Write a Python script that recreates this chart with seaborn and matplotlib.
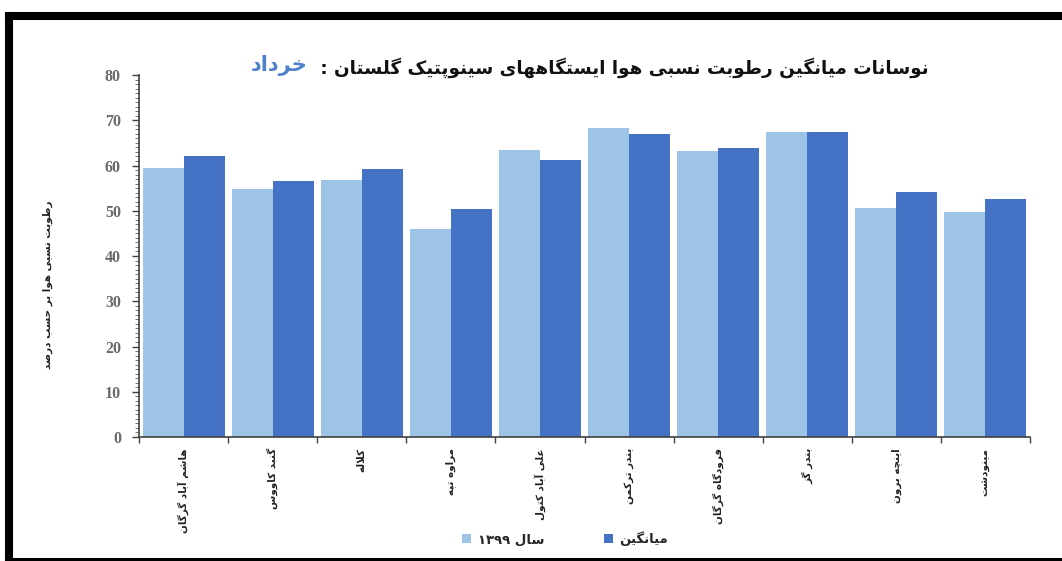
"""
Golestan synoptic stations - mean relative humidity, Khordad.
"""
import re

import matplotlib
matplotlib.use("Agg")
import matplotlib.pyplot as plt
import numpy as np
import pandas as pd
import seaborn as sns
from matplotlib.lines import Line2D
from matplotlib.patches import Patch
from matplotlib.ticker import FixedLocator, MultipleLocator

stations = [
    "هاشم آباد گرگان", "گنبد کاووس", "کلاله", "مراوه تپه", "علی آباد کتول",
    "بندر ترکمن", "فرودگاه گرگان", "بندر گز", "اینچه برون", "مینودشت",
]
year_1399 = [59.5, 54.8, 56.8, 46.0, 63.4, 68.2, 63.3, 67.5, 50.5, 49.7]
long_mean = [62.2, 56.6, 59.2, 50.4, 61.2, 66.9, 63.9, 67.5, 54.2, 52.6]
series_names = ["سال ۱۳۹۹", "میانگین"]
title_main = "نوسانات میانگین رطوبت نسبی هوا ایستگاههای سینوپتیک گلستان : "
title_month = "خرداد"
y_label = "رطوبت نسبی هوا بر حسب درصد"

LIGHT = "#9DC3E6"
DARK = "#4472C4"

# --- tiny persian shaper (no arabic_reshaper in the sandbox) ---
# (isolated, final, initial, medial); right-joining letters have no initial/medial
FORMS = {
    "ا": ("\uFE8D", "\uFE8E", None, None),
    "آ": ("\uFE81", "\uFE82", None, None),
    "ب": ("\uFE8F", "\uFE90", "\uFE91", "\uFE92"),
    "پ": ("\uFB56", "\uFB57", "\uFB58", "\uFB59"),
    "ت": ("\uFE95", "\uFE96", "\uFE97", "\uFE98"),
    "ج": ("\uFE9D", "\uFE9E", "\uFE9F", "\uFEA0"),
    "چ": ("\uFB7A", "\uFB7B", "\uFB7C", "\uFB7D"),
    "ح": ("\uFEA1", "\uFEA2", "\uFEA3", "\uFEA4"),
    "خ": ("\uFEA5", "\uFEA6", "\uFEA7", "\uFEA8"),
    "د": ("\uFEA9", "\uFEAA", None, None),
    "ر": ("\uFEAD", "\uFEAE", None, None),
    "ز": ("\uFEAF", "\uFEB0", None, None),
    "س": ("\uFEB1", "\uFEB2", "\uFEB3", "\uFEB4"),
    "ش": ("\uFEB5", "\uFEB6", "\uFEB7", "\uFEB8"),
    "ص": ("\uFEB9", "\uFEBA", "\uFEBB", "\uFEBC"),
    "ط": ("\uFEC1", "\uFEC2", "\uFEC3", "\uFEC4"),
    "ع": ("\uFEC9", "\uFECA", "\uFECB", "\uFECC"),
    "ف": ("\uFED1", "\uFED2", "\uFED3", "\uFED4"),
    "ک": ("\uFB8E", "\uFB8F", "\uFB90", "\uFB91"),
    "گ": ("\uFB92", "\uFB93", "\uFB94", "\uFB95"),
    "ل": ("\uFEDD", "\uFEDE", "\uFEDF", "\uFEE0"),
    "م": ("\uFEE1", "\uFEE2", "\uFEE3", "\uFEE4"),
    "ن": ("\uFEE5", "\uFEE6", "\uFEE7", "\uFEE8"),
    "ه": ("\uFEE9", "\uFEEA", "\uFEEB", "\uFEEC"),
    "و": ("\uFEED", "\uFEEE", None, None),
    "ی": ("\uFBFC", "\uFBFD", "\uFBFE", "\uFBFF"),
    "LA": ("\uFEFB", "\uFEFC", None, None),
}


def fa(text):
    units = []
    i = 0
    while i < len(text):
        if text[i] == "ل" and i + 1 < len(text) and text[i + 1] == "ا":
            units.append("LA")
            i += 2
        else:
            units.append(text[i])
            i += 1
    out = []
    for k, u in enumerate(units):
        if u not in FORMS:
            out.append(u)
            continue
        prev = units[k - 1] if k > 0 else None
        nxt = units[k + 1] if k + 1 < len(units) else None
        p = prev in FORMS and FORMS[prev][2] is not None
        n = nxt in FORMS and FORMS[u][2] is not None
        iso, fin, ini, med = FORMS[u]
        if p and n:
            out.append(med)
        elif p:
            out.append(fin)
        elif n:
            out.append(ini)
        else:
            out.append(iso)
    shaped = "".join(out)
    # visual order: reverse, but keep digit runs left-to-right
    tokens = re.split(r"([0-9۰-۹]+)", shaped)
    tokens = [t if re.fullmatch(r"[0-9۰-۹]+", t) else t[::-1] for t in tokens]
    return "".join(tokens[::-1])


df = pd.DataFrame({
    "station": stations * 2,
    "value": year_1399 + long_mean,
    "series": [series_names[0]] * len(stations) + [series_names[1]] * len(stations),
})

sns.set_style("white")
plt.rcParams["font.family"] = ["DejaVu Sans"]

fig = plt.figure(figsize=(10.62, 5.61), dpi=100)
ax = fig.add_axes([0.1309, 0.221, 0.839, 0.6453])

sns.barplot(data=df, x="station", y="value", hue="series", order=stations,
            hue_order=series_names, palette=[LIGHT, DARK], width=0.92,
            saturation=1, ax=ax, legend=False, linewidth=0)

ax.set_xlim(-0.5, len(stations) - 0.5)
ax.set_ylim(0, 80)
ax.yaxis.set_major_locator(MultipleLocator(10))
ax.yaxis.set_minor_locator(MultipleLocator(1))
ax.tick_params(axis="y", which="major", length=5, width=1, color="#404040",
               direction="out", left=True, pad=8)
ax.tick_params(axis="y", which="minor", length=3, width=0.6, color="#606060",
               direction="out", left=True)
for lab in ax.get_yticklabels():
    lab.set_fontfamily("Liberation Serif")
    lab.set_fontweight("bold")
    lab.set_fontsize(11.5)
    lab.set_color("#6a6a6a")

# category ticks sit on the boundaries, labels in the middle
ax.xaxis.set_minor_locator(FixedLocator(np.arange(-0.5, len(stations), 1.0)))
ax.tick_params(axis="x", which="minor", length=4, width=1, color="#404040",
               direction="out", bottom=True)
ax.tick_params(axis="x", which="major", length=0, pad=8)
ax.set_xticks(range(len(stations)))
ax.set_xticklabels([fa(s) for s in stations], rotation=90, fontsize=7.5,
                   fontweight="bold", va="top", ha="center", color="#222222")
ax.set_xlabel("")

ax.set_ylabel(fa(y_label), fontsize=7.5, fontweight="bold", color="#222222")
ax.yaxis.set_label_coords(-0.097, 0.42)

sns.despine(ax=ax)
for side in ("left", "bottom"):
    ax.spines[side].set_color("#404040")
    ax.spines[side].set_linewidth(1.2)

# title: black part plus blue month name on its left
fig.text(314 / 1062, 1 - 68 / 561, fa(title_main), fontsize=13.2,
         fontweight="bold", ha="left", va="center", color="#111111")
fig.text(308 / 1062, 1 - 66 / 561, fa(title_month), fontsize=15,
         fontweight="bold", ha="right", va="center", color="#4F81C9")

handles = [Patch(facecolor=LIGHT, edgecolor="none"),
           Patch(facecolor=DARK, edgecolor="none")]
fig.legend(handles, [fa(s) for s in series_names], loc="center",
           bbox_to_anchor=(565 / 1062, 1 - 539 / 561), ncol=2, frameon=False,
           prop={"size": 9.5, "weight": "bold"}, handlelength=0.7,
           handleheight=0.7, columnspacing=4.5, handletextpad=0.5)

# black frame of the original screenshot
W, H = 1062, 561
frame = dict(color="black", linewidth=5.8, solid_capstyle="projecting",
             transform=fig.transFigure)
fig.add_artist(Line2D([9 / W, 1.01], [1 - 16 / H, 1 - 16 / H], **frame))
fig.add_artist(Line2D([9 / W, 9 / W], [1 - 16 / H, -0.01], **frame))
fig.add_artist(Line2D([9 / W, 1.01], [1 - 561.5 / H, 1 - 561.5 / H], **frame))

fig.savefig("out.png", dpi=100)
